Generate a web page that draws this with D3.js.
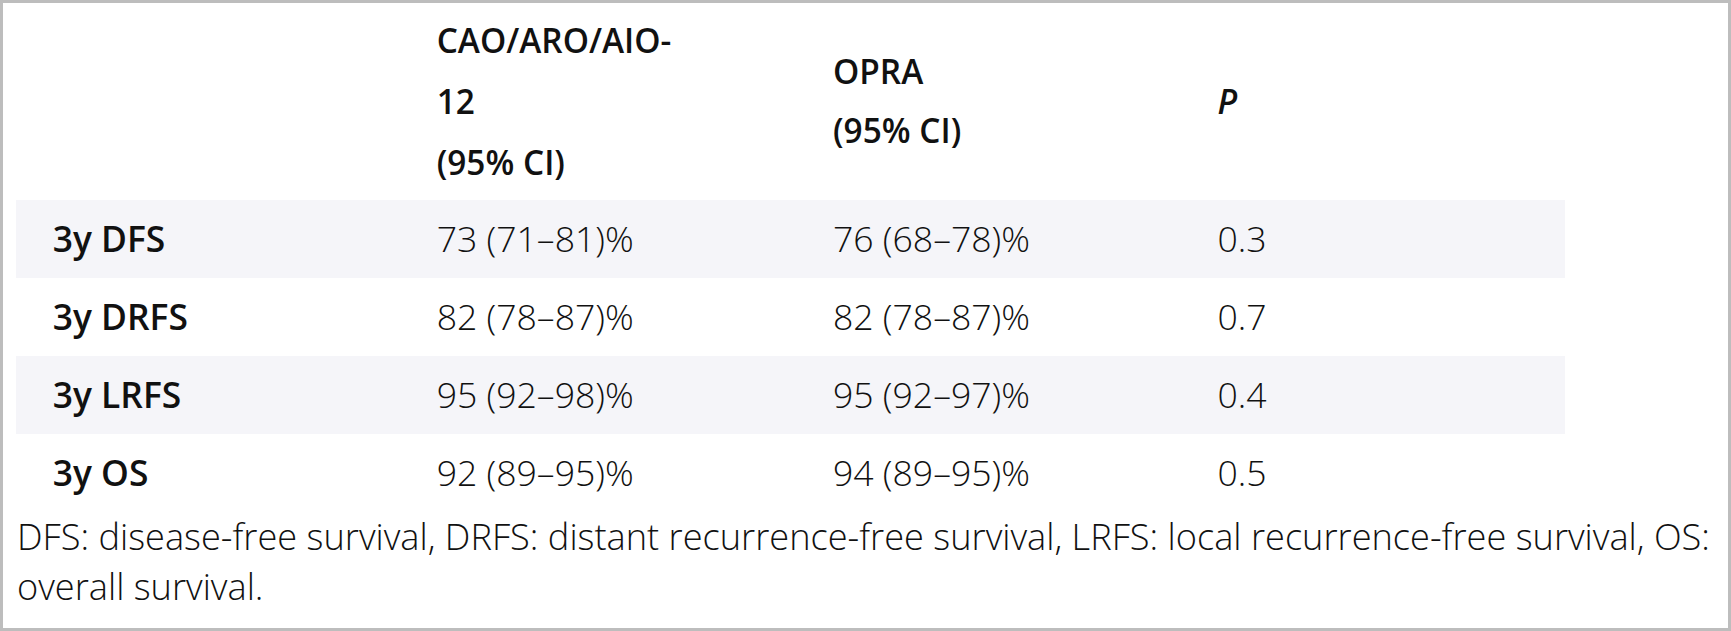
<!DOCTYPE html>
<html>
<head>
<meta charset="utf-8">
<script src="https://cdn.jsdelivr.net/npm/d3@7"></script>
<style>
  html, body { margin: 0; padding: 0; background: #fff; }
  svg { display: block; }
  text { font-family: "Open Sans", "Noto Sans", sans-serif; fill: #111; }
</style>
</head>
<body>
<svg id="chart" width="1731" height="631"></svg>
<script>
// ---- data ----
const metrics   = ["3y DFS", "3y DRFS", "3y LRFS", "3y OS"];
const caoEst    = [73, 82, 95, 92];
const caoLow    = [71, 78, 92, 89];
const caoHigh   = [81, 87, 98, 95];
const opraEst   = [76, 82, 95, 94];
const opraLow   = [68, 78, 92, 89];
const opraHigh  = [78, 87, 97, 95];
const pValues   = [0.3, 0.7, 0.4, 0.5];
const headerCao  = ["CAO/ARO/AIO-", "12", "(95% CI)"];
const headerOpra = ["OPRA", "(95% CI)"];
const headerP    = "P";
const footnote   = ["DFS: disease-free survival, DRFS: distant recurrence-free survival, LRFS: local recurrence-free survival, OS:",
                    "overall survival."];

// ---- layout ----
const W = 1731, H = 631;
const svg = d3.select("#chart");

const columns = ["metric", "cao", "opra", "p"];
const x = d3.scaleOrdinal().domain(columns).range([52.7, 436.7, 833, 1217.5]);
const y = d3.scaleBand().domain(metrics).range([200, 512]).paddingInner(0).paddingOuter(0);

const fmtCI = (e, l, h) => `${e} (${l}\u2013${h})%`;

// border
svg.append("rect")
  .attr("x", 1.5).attr("y", 1.5).attr("width", W - 3).attr("height", H - 3)
  .attr("fill", "#fff").attr("stroke", "#bdbdbd").attr("stroke-width", 3);

// striped rows
svg.append("g").selectAll("rect")
  .data(metrics.filter((d, i) => i % 2 === 0))
  .join("rect")
  .attr("x", 16).attr("width", 1565 - 16)
  .attr("y", d => y(d)).attr("height", y.bandwidth())
  .attr("fill", "#f5f5f9");

// header
const hdr = svg.append("g").attr("font-weight", 600).attr("font-size", 33.4);
const caoLineY = [53.3, 114.3, 174.5];
hdr.selectAll("text.cao").data(headerCao).join("text").attr("class", "cao")
  .attr("x", x("cao")).attr("y", (d, i) => caoLineY[i]).text(d => d);
const opraLineY = [84.3, 143];
hdr.selectAll("text.opra").data(headerOpra).join("text").attr("class", "opra")
  .attr("x", x("opra")).attr("y", (d, i) => opraLineY[i]).text(d => d);
hdr.append("text").attr("x", x("p")).attr("y", 114.3)
  .attr("font-style", "italic").text(headerP);

// body rows
const rows = metrics.map((m, i) => ({
  metric: m,
  cao: fmtCI(caoEst[i], caoLow[i], caoHigh[i]),
  opra: fmtCI(opraEst[i], opraLow[i], opraHigh[i]),
  p: d3.format(".1f")(pValues[i])
}));
const baseOff = y.bandwidth() / 2 + 12.6;
const rg = svg.append("g").selectAll("g").data(rows).join("g")
  .attr("transform", d => `translate(0,${y(d.metric) + baseOff})`);
rg.append("text").attr("x", x("metric")).attr("font-weight", 600).attr("font-size", 35.4).text(d => d.metric);
rg.append("text").attr("x", x("cao")).attr("font-weight", 300).attr("font-size", 35.6).text(d => d.cao);
rg.append("text").attr("x", x("opra")).attr("font-weight", 300).attr("font-size", 35.6).text(d => d.opra);
rg.append("text").attr("x", x("p")).attr("font-weight", 300).attr("font-size", 35.6).text(d => d.p);

// footnote
const footY = [550, 600];
svg.append("g").selectAll("text").data(footnote).join("text")
  .attr("x", 17).attr("y", (d, i) => footY[i])
  .attr("font-weight", 300).attr("font-size", 36.2).text(d => d);
</script>
</body>
</html>
